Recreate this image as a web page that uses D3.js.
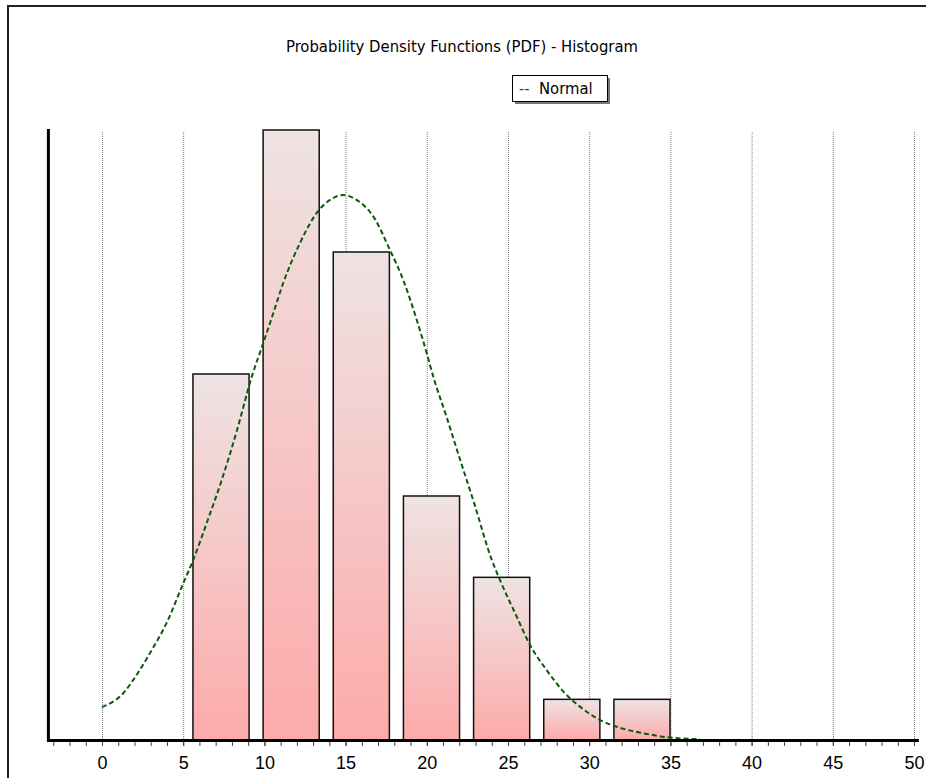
<!DOCTYPE html>
<html>
<head>
<meta charset="utf-8">
<script src="https://cdn.jsdelivr.net/npm/d3@7"></script>
<style>
  html, body { margin: 0; padding: 0; background: #fff; }
  svg { display: block; }
</style>
</head>
<body>
<div id="chart"></div>
<script>
// ---------- data ----------
const titleText = "Probability Density Functions (PDF) - Histogram";
const legendLabel = "Normal";
const xTickValues = [0, 5, 10, 15, 20, 25, 30, 35, 40, 45, 50];
const xMinorTicks = d3.range(-3, 51, 1);
const binLower = [5.6, 9.92, 14.24, 18.56, 22.88, 27.2, 31.52];
const binWidth = 4.32;
const binCounts = [9, 15, 12, 6, 4, 1, 1];
// fitted normal curve (same units as the counts)
const curveX = [0.0, 1.31, 1.93, 2.96, 3.98, 5.01, 5.62, 6.45, 7.37, 8.30, 9.22, 9.93, 10.55, 11.16, 12.19, 13.22, 14.04, 14.86, 15.68, 16.71, 17.73, 18.55, 19.38, 19.99, 20.40, 21.18, 21.98, 22.91, 24.00, 24.51, 25.54, 26.35, 27.38, 28.41, 29.43, 30.67, 31.90, 33.54, 34.98, 36.82];
const curveY = [0.81, 1.15, 1.48, 2.14, 2.88, 3.86, 4.43, 5.34, 6.39, 7.60, 8.93, 9.76, 10.50, 11.24, 12.22, 12.96, 13.28, 13.40, 13.28, 12.87, 12.05, 11.31, 10.33, 9.52, 8.93, 7.99, 6.98, 5.83, 4.43, 3.93, 3.03, 2.34, 1.72, 1.19, 0.82, 0.49, 0.30, 0.15, 0.06, 0.02];

// ---------- layout ----------
const W = 926, H = 778;
const svg = d3.select("#chart").append("svg").attr("width", W).attr("height", H);
svg.append("rect").attr("width", W).attr("height", H).attr("fill", "#fff");

const x = d3.scaleLinear().domain([-3.3, 50.3]).range([48.4, 918.9]);
const y = d3.scaleLinear().domain([0, 15]).range([740, 130]);

// frame
svg.append("path").attr("d", `M8,${H} L8,6 L${W},6`).attr("fill", "none")
  .attr("stroke", "#222").attr("stroke-width", 2);

// gradient for bars
const defs = svg.append("defs");
const grad = defs.append("linearGradient").attr("id", "barGrad")
  .attr("x1", 0).attr("y1", 0).attr("x2", 0).attr("y2", 1);
grad.append("stop").attr("offset", "0%").attr("stop-color", "#efe3e3");
grad.append("stop").attr("offset", "100%").attr("stop-color", "#fdaaaa");

// gridlines
svg.append("g").selectAll("line").data(xTickValues).join("line")
  .attr("x1", d => x(d) + 0.5).attr("x2", d => x(d) + 0.5)
  .attr("y1", y(15) + 2).attr("y2", y(0))
  .attr("stroke", "#7a7a7a").attr("stroke-width", 1).attr("stroke-dasharray", "1,1");

// bars
svg.append("g").selectAll("rect").data(binCounts).join("rect")
  .attr("x", (d, i) => x(binLower[i]))
  .attr("y", d => y(d))
  .attr("width", (d, i) => x(binLower[i] + binWidth * 0.8) - x(binLower[i]))
  .attr("height", d => y(0) - y(d))
  .attr("fill", "url(#barGrad)")
  .attr("stroke", "#111").attr("stroke-width", 1.5);

// normal curve
const pts = curveX.map((v, i) => [v, curveY[i]]);
svg.append("path").datum(pts)
  .attr("d", d3.line().x(d => x(d[0])).y(d => y(d[1])).curve(d3.curveMonotoneX))
  .attr("fill", "none").attr("stroke", "#0b5a0b").attr("stroke-width", 2)
  .attr("stroke-dasharray", "5,3");

// x axis: minor ticks
const minorAxis = svg.append("g").attr("transform", `translate(0,${y(0)})`)
  .call(d3.axisBottom(x).tickValues(xMinorTicks).tickSize(6).tickFormat(""));
minorAxis.select(".domain").remove();
minorAxis.selectAll("line").attr("stroke", "#444");

// x axis: labels
const majorAxis = svg.append("g").attr("transform", `translate(0,${y(0)})`)
  .call(d3.axisBottom(x).tickValues(xTickValues).tickSize(6).tickPadding(10).tickFormat(d3.format("d")));
majorAxis.select(".domain").remove();
majorAxis.selectAll("line").attr("stroke", "#444");
majorAxis.selectAll("text").attr("font-family", "Liberation Sans, Arial, sans-serif")
  .attr("font-size", 18).attr("fill", "#000");

// axis lines
svg.append("line").attr("x1", x(-3.3)).attr("x2", x(50.3)).attr("y1", y(0) + 0.5).attr("y2", y(0) + 0.5)
  .attr("stroke", "#000").attr("stroke-width", 3);
svg.append("line").attr("x1", x(-3.3)).attr("x2", x(-3.3)).attr("y1", y(15) - 1).attr("y2", y(0) + 2)
  .attr("stroke", "#000").attr("stroke-width", 3);

// title
svg.append("text").attr("x", 462).attr("y", 52).attr("text-anchor", "middle")
  .attr("font-family", "DejaVu Sans Condensed, DejaVu Sans, sans-serif").attr("font-size", 16.5)
  .attr("fill", "#000").text(titleText);

// legend
const lg = svg.append("g").attr("transform", "translate(512,75)");
lg.append("rect").attr("x", 3).attr("y", 3).attr("width", 95).attr("height", 26).attr("fill", "#777");
lg.append("rect").attr("x", 0.5).attr("y", 0.5).attr("width", 95).attr("height", 26)
  .attr("fill", "#fff").attr("stroke", "#000").attr("stroke-width", 1);
lg.append("text").attr("x", 7).attr("y", 19).attr("fill", "#0b5a0b")
  .attr("font-family", "DejaVu Sans Condensed, DejaVu Sans, sans-serif").attr("font-size", 16).text("--");
lg.append("text").attr("x", 27).attr("y", 19).attr("fill", "#000")
  .attr("font-family", "DejaVu Sans Condensed, DejaVu Sans, sans-serif").attr("font-size", 16.5).text(legendLabel);
</script>
</body>
</html>
